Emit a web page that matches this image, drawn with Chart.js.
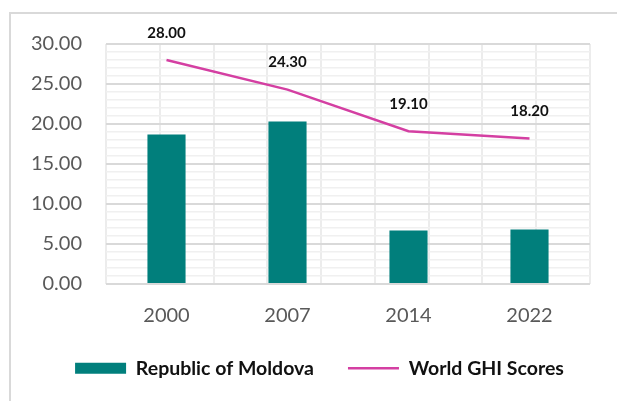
<!DOCTYPE html>
<html>
<head>
<meta charset="utf-8">
<script src="https://cdn.jsdelivr.net/npm/chart.js@4.4.0/dist/chart.umd.min.js"></script>
<style>
    body { margin: 0; background: #fff; overflow: hidden; }
    #moldura { position: absolute; left: 9px; top: 12px; width: 700px; height: 500px; border: 2px solid #d9d9d9; }
    #grafico { position: absolute; left: 0; top: 0; }
</style>
</head>
<body>
<div id="moldura"></div>
<canvas id="grafico" width="617" height="401"></canvas>
<script>
const anos = ['2000', '2007', '2014', '2022'];
const moldova = [18.7, 20.3, 6.7, 6.8];
const mundoGHI = [28.0, 24.3, 19.1, 18.2];
const yMin = 0;
const yMax = 30;

const corBarra = '#017f7c';
const corLinha = '#d43fa2';

// rotulos de valor acima dos pontos da linha
const rotulosLinha = {
    id: 'rotulosLinha',
    afterDatasetsDraw(chart) {
        const ctx = chart.ctx;
        const meta = chart.getDatasetMeta(1);
        ctx.save();
        ctx.font = 'bold 15px Lato';
        ctx.fillStyle = '#111';
        ctx.textAlign = 'center';
        ctx.textBaseline = 'middle';
        meta.data.forEach((ponto, i) => {
            ctx.fillText(mundoGHI[i].toFixed(2), ponto.x, ponto.y - 27);
        });
        ctx.restore();
    }
};

// legenda centrada um pouco mais a direita, como no original
const deslocaLegenda = {
    id: 'deslocaLegenda',
    afterLayout(chart) {
        chart.legend.left += 12;
        chart.legend.right += 12;
    }
};

const ctx = document.getElementById('grafico').getContext('2d');
new Chart(ctx, {
    type: 'bar',
    data: {
        labels: anos,
        datasets: [
            {
                label: 'Republic of Moldova',
                data: moldova,
                backgroundColor: corBarra,
                borderWidth: 0,
                barPercentage: 0.315,
                categoryPercentage: 1,
                pointStyle: 'rect'
            },
            {
                type: 'line',
                label: 'World GHI Scores',
                data: mundoGHI,
                borderColor: corLinha,
                backgroundColor: corLinha,
                borderWidth: 2.5,
                pointRadius: 0,
                pointStyle: 'line',
                tension: 0,
                fill: false
            }
        ]
    },
    options: {
        responsive: false,
        animation: false,
        layout: {
            padding: { left: 25, right: 27, top: 44, bottom: 13 }
        },
        plugins: {
            tooltip: { enabled: false },
            legend: {
                position: 'bottom',
                maxHeight: 76,
                labels: {
                    usePointStyle: true,
                    pointStyleWidth: 51,
                    boxHeight: 11,
                    padding: 34,
                    color: '#111',
                    font: { family: 'Lato', size: 19.5, weight: 'bold' }
                }
            }
        },
        scales: {
            x: {
                offset: true,
                grid: { display: false, drawTicks: false },
                border: { display: false },
                ticks: {
                    color: '#595959',
                    padding: 20,
                    font: { family: 'Lato', size: 20 }
                },
                afterFit(scale) { scale.height = 40.5; }
            },
            xGrade: {
                type: 'linear',
                position: 'top',
                min: -0.5,
                max: 3.5,
                grid: { color: '#ececec', lineWidth: 2, drawTicks: false },
                border: { display: false },
                ticks: { display: false, stepSize: 0.5 },
                afterFit(scale) { scale.height = 0; }
            },
            y: {
                min: yMin,
                max: yMax,
                border: { display: false },
                grid: {
                    drawTicks: false,
                    color: c => c.tick.value % 5 === 0 ? '#d9d9d9' : '#f0f0f0',
                    lineWidth: c => c.tick.value % 5 === 0 ? 2 : 1.5
                },
                ticks: {
                    stepSize: 1,
                    autoSkip: false,
                    padding: 24,
                    color: '#595959',
                    font: { family: 'Lato', size: 20 },
                    callback: v => v % 5 === 0 ? v.toFixed(2) : ''
                },
                afterFit(scale) { scale.width = 81; }
            }
        }
    },
    plugins: [rotulosLinha, deslocaLegenda]
});
</script>
</body>
</html>
